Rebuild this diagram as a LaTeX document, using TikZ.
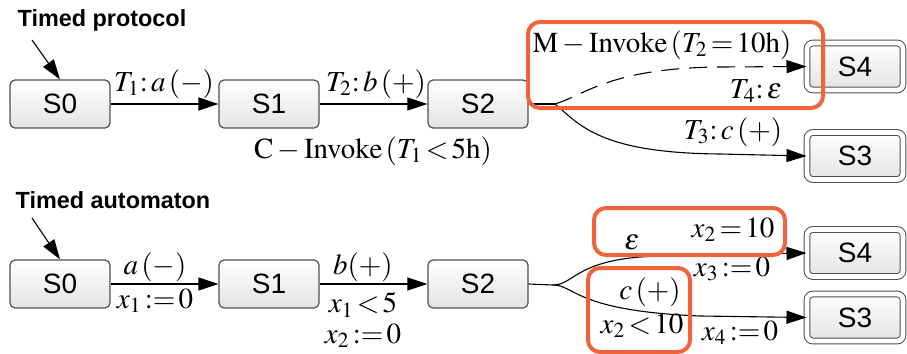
\documentclass[tikz,border=0pt]{standalone}
\usepackage{mathptmx}
\usepackage{fontspec}
\setmainfont{Liberation Serif}
\newfontfamily\sansf{Liberation Sans}
\usetikzlibrary{arrows.meta}
\definecolor{hl}{HTML}{F0643C}
\definecolor{bd}{HTML}{505050}
\tikzset{
  stbox/.style={draw=bd, line width=0.6pt, rounded corners=2.5pt, top color=white, bottom color=gray!22,
    minimum width=50pt, minimum height=24pt, inner sep=0pt, font=\sansf\fontsize{14}{14}\selectfont},
  finbox/.style={draw=bd, line width=0.5pt, double=white, double distance=2.4pt, rounded corners=3pt,
    top color=white, bottom color=gray!22,
    minimum width=48pt, minimum height=23.5pt, inner sep=0pt, font=\sansf\fontsize{14}{14}\selectfont},
  ttl/.style={font=\sansf\bfseries\fontsize{11.7}{12}\selectfont, inner sep=0pt},
  lbl/.style={font=\fontsize{14.5}{15}\selectfont, inner sep=0pt},
  edge/.style={line width=0.55pt, -{Triangle[length=10pt,width=6.5pt]}},
  hlbox/.style={draw=hl, line width=2pt, rounded corners=6pt}
}
\begin{document}
\begin{tikzpicture}[x=0.5pt,y=-0.5pt]
\useasboundingbox (0,0) rectangle (907,354);
% ---------- top: timed protocol ----------
\node[ttl] (tp) at (102,20) {Timed protocol};
\coordinate (i1) at (32,40);
\node[stbox] (a0) at (60,104) {S0};
\node[stbox] (a1) at (269,104) {S1};
\node[stbox] (a2) at (478,104) {S2};
\node[finbox] (a4) at (855,66.5) {S4};
\node[finbox] (a3) at (855,156) {S3};
\coordinate (ab) at (555,104);
\draw[edge] (i1) -- (a0.north);
\draw[edge] (a0) -- (a1);
\draw[edge] (a1) -- (a2);
\draw[line width=0.55pt] (a2.east) -- (ab);
\draw[edge, dashed, dash pattern=on 9pt off 5pt] (ab) .. controls (585,95) and (610,68) .. (720,67) -- (a4.west);
\draw[edge] (ab) .. controls (580,125) and (600,153) .. (720,154) -- (a3.west);
\node[lbl] (l1) at (164,84) {$T_1{:}\,a\,(-)$};
\node[lbl] (l2) at (376,84) {$T_2{:}\,b\,(+)$};
\node[lbl] (l3) at (373,151) {$\mathrm{C}-\mathrm{Invoke}\,(T_1\!<\!5\mathrm{h})$};
\node[lbl] (l4) at (662,45) {$\mathrm{M}-\mathrm{Invoke}\,(T_2\!=\!10\mathrm{h})$};
\node[lbl] (l5) at (756,91) {$T_4{:}\,\varepsilon$};
\node[lbl] (l6) at (733,132) {$T_3{:}\,c\,(+)$};
\draw[hlbox] (528,22) rectangle (823,108);
% ---------- bottom: timed automaton ----------
\node[ttl] (ta) at (113,200) {Timed automaton};
\coordinate (i2) at (32,218);
\node[stbox] (b0) at (60,284) {S0};
\node[stbox] (b1) at (269,284) {S1};
\node[stbox] (b2) at (478,284) {S2};
\node[finbox] (b4) at (855,253) {S4};
\node[finbox] (b3) at (855,317.5) {S3};
\coordinate (bb) at (553,285);
\draw[edge] (i2) -- (b0.north);
\draw[edge] (b0) -- (b1);
\draw[edge] (b1) -- (b2);
\draw[line width=0.55pt] (b2.east) -- (bb);
\draw[edge] (bb) .. controls (575,285) and (575,258) .. (660,256) -- (b4.west);
\draw[edge] (bb) .. controls (575,285) and (575,311) .. (700,316) -- (b3.west);
\node[lbl] (m1) at (155,267) {$a\,(-)$};
\node[lbl] (m2) at (155,301) {$x_1\!:=\!0$};
\node[lbl] (m3) at (363,267) {$b(+)$};
\node[lbl] (m4) at (363,305) {$x_1\!<\!5$};
\node[lbl] (m5) at (363,336) {$x_2\!:=\!0$};
\node[lbl] (m6) at (632,242) {$\varepsilon$};
\node[lbl] (m7) at (733,230) {$x_2\!=\!10$};
\node[lbl] (m8) at (732,269) {$x_3\!:=\!0$};
\node[lbl] (m9) at (650,292) {$c\,(+)$};
\node[lbl] (m10) at (642,326) {$x_2\!<\!10$};
\node[lbl] (m11) at (740,333) {$x_4\!:=\!0$};
\draw[hlbox] (594,208) rectangle (785,255);
\draw[hlbox] (588,268) rectangle (690,352);
\end{tikzpicture}
\end{document}
